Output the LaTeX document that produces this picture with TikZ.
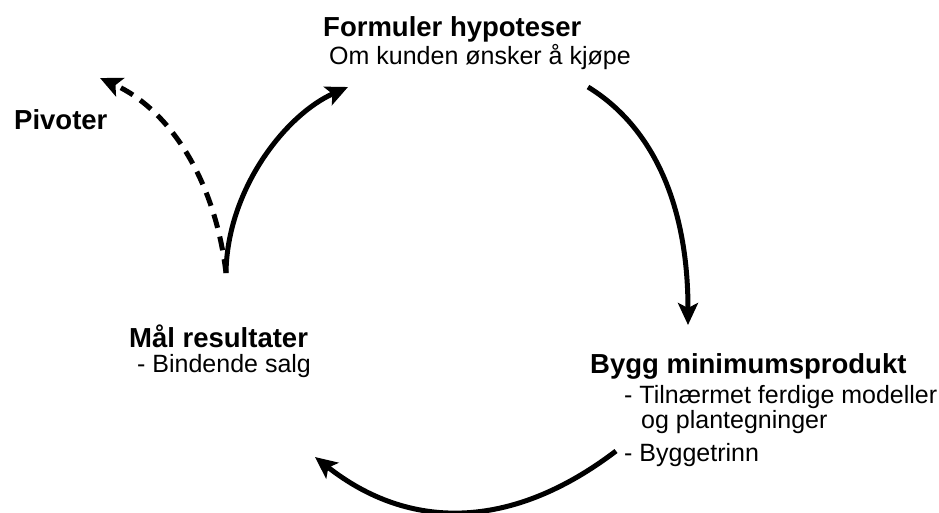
\documentclass[tikz,border=0pt]{standalone}
\usepackage{fontspec}
\setmainfont{Liberation Sans}
\usetikzlibrary{arrows.meta}
\tikzset{
  head/.style={font=\fontsize{27.5}{30}\selectfont\bfseries, anchor=base west, inner sep=0pt},
  sub/.style={font=\fontsize{25}{20.5}\selectfont, anchor=base west, inner sep=0pt, align=left},
  cycle arrow/.style={line width=5pt, -{Stealth[length=22pt,width=20pt,inset=5pt]}},
}
\begin{document}
\begin{tikzpicture}[x=1pt,y=-1pt]
\useasboundingbox (0,0) rectangle (939,512);
% texts
\node[head] (hyp) at (323,36) {Formuler hypoteser};
\node[sub] (hypsub) at (329,64) {Om kunden ønsker å kjøpe};
\node[head] (piv) at (14,129) {Pivoter};
\node[head] (maal) at (129,347) {Mål resultater};
\node[sub] (maalsub) at (137,372) {- Bindende salg};
\node[head] (bygg) at (590,373) {Bygg minimumsprodukt};
\node[sub] (byggsub1) at (624,428) {- Tilnærmet ferdige modeller\\\hspace*{17pt}og plantegninger};
\node[sub] (byggsub2) at (624,461) {- Byggetrinn};
% arrow ends
\coordinate (s1) at (588,87);   \coordinate (e1) at (688,325);
\coordinate (s2) at (616,451);  \coordinate (e2) at (315,457);
\coordinate (s3) at (226,273);  \coordinate (e3) at (348,87);
\coordinate (e4) at (100,78);
% arrows
\draw[cycle arrow] (s1) .. controls (650,125) and (688,200) .. (e1);
\draw[cycle arrow] (s2) .. controls (511,531) and (409,531) .. (e2);
\draw[cycle arrow] (s3) .. controls (227,190) and (285,115) .. (e3);
\draw[cycle arrow, dash pattern=on 14pt off 9pt] (s3) .. controls (215,180) and (170,110) .. (e4);
\end{tikzpicture}
\end{document}
